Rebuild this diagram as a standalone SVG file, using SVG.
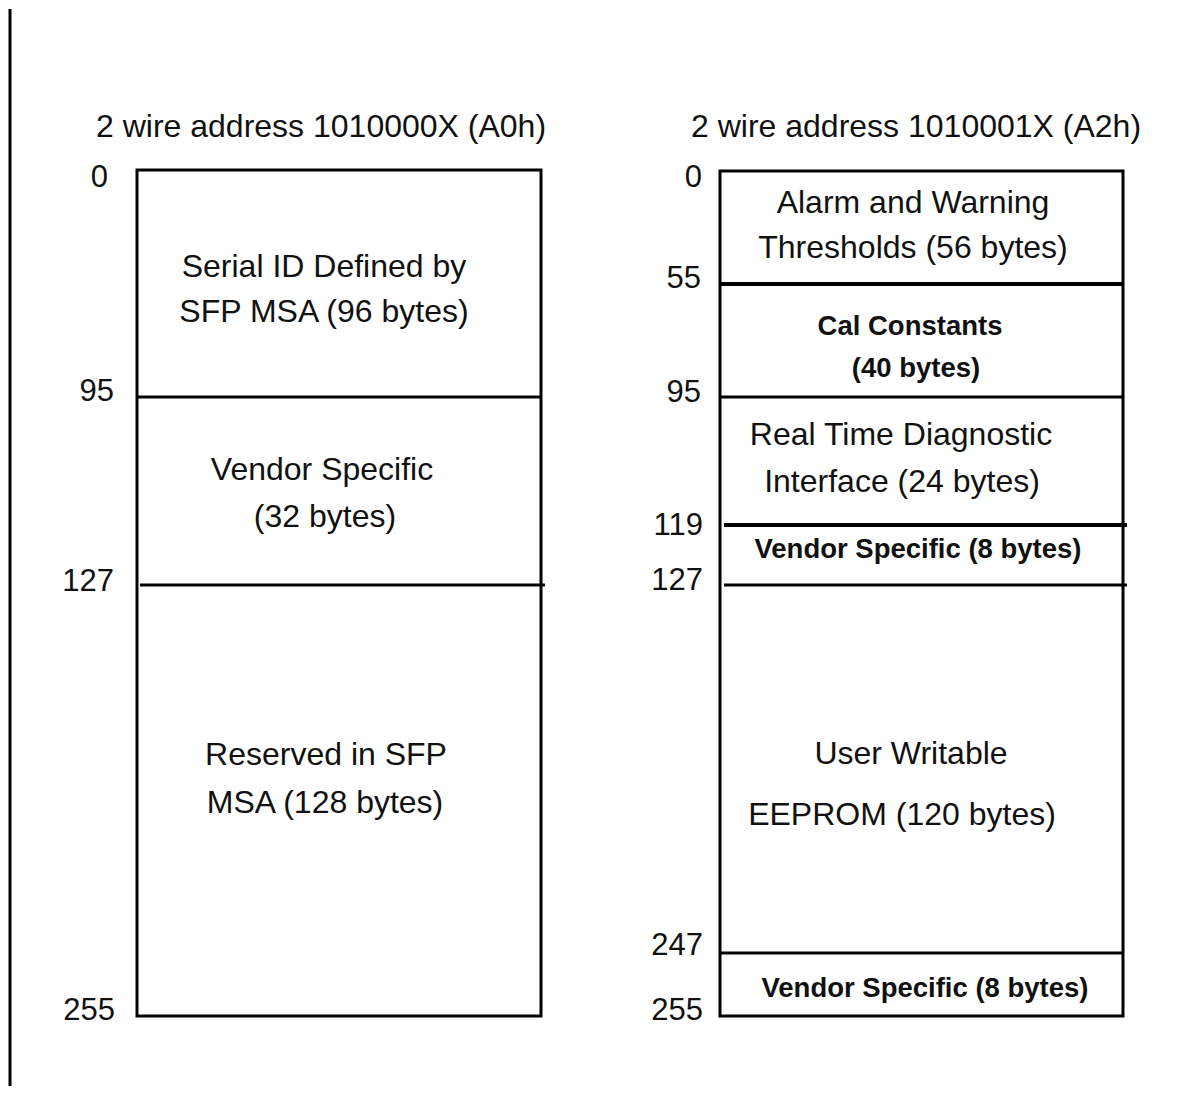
<svg xmlns="http://www.w3.org/2000/svg" width="1195" height="1096" viewBox="0 0 1195 1096">
<style>
.t{font-family:"Liberation Sans",Arial,sans-serif;font-size:32px;fill:#111;text-anchor:middle}
.b{font-family:"Liberation Sans",Arial,sans-serif;font-size:27.5px;font-weight:bold;fill:#111;text-anchor:middle}
.n{font-family:"Liberation Sans",Arial,sans-serif;font-size:31px;fill:#111;text-anchor:end}
.h{font-family:"Liberation Sans",Arial,sans-serif;font-size:32px;fill:#111;text-anchor:start}
.box{fill:none;stroke:#000;stroke-width:3}
.ln{stroke:#000;stroke-width:3;fill:none}
.lt{stroke:#000;stroke-width:4;fill:none}
</style>
<rect width="1195" height="1096" fill="#fff"/>
<line x1="10" y1="9" x2="10" y2="1086" class="ln"/>

<g id="titles">
<text class="h" x="96" y="137">2 wire address 1010000X (A0h)</text>
<text class="h" x="691" y="137">2 wire address 1010001X (A2h)</text>
</g>

<g id="labels-a0">
<text class="n" x="108" y="187">0</text>
<text class="n" x="114" y="401">95</text>
<text class="n" x="114" y="591">127</text>
<text class="n" x="115" y="1020">255</text>
</g>
<g id="labels-a2">
<text class="n" x="702" y="187">0</text>
<text class="n" x="701" y="288">55</text>
<text class="n" x="701" y="402">95</text>
<text class="n" x="703" y="535">119</text>
<text class="n" x="703" y="590">127</text>
<text class="n" x="703" y="955">247</text>
<text class="n" x="703" y="1020">255</text>
</g>

<g id="a0-box">
<rect class="box" x="137" y="170" width="404" height="846"/>
</g>
<g id="a2-box">
<rect class="box" x="720" y="171" width="403" height="845"/>
</g>

<g id="connectors">
<line class="ln" x1="137" y1="397" x2="541" y2="397"/>
<line class="ln" x1="140" y1="585" x2="545" y2="585"/>
<line class="lt" x1="720" y1="284" x2="1123" y2="284"/>
<line class="ln" x1="720" y1="397" x2="1123" y2="397"/>
<line class="lt" x1="724" y1="525" x2="1127" y2="525"/>
<line class="ln" x1="724" y1="585" x2="1127" y2="585"/>
<line class="ln" x1="720" y1="953" x2="1123" y2="953"/>
</g>

<g id="a0-serial-id">
<text class="t" x="324" y="277">Serial ID Defined by</text>
<text class="t" x="324" y="322">SFP MSA (96 bytes)</text>
</g>
<g id="a0-vendor-specific">
<text class="t" x="322" y="480">Vendor Specific</text>
<text class="t" x="325" y="527">(32 bytes)</text>
</g>
<g id="a0-reserved">
<text class="t" x="326" y="765">Reserved in SFP</text>
<text class="t" x="325" y="813">MSA (128 bytes)</text>
</g>

<g id="a2-thresholds">
<text class="t" x="913" y="213">Alarm and Warning</text>
<text class="t" x="913" y="258">Thresholds (56 bytes)</text>
</g>
<g id="a2-cal-constants">
<text class="b" x="910" y="335">Cal Constants</text>
<text class="b" x="916" y="377">(40 bytes)</text>
</g>
<g id="a2-diagnostic">
<text class="t" x="901" y="445">Real Time Diagnostic</text>
<text class="t" x="902" y="492">Interface (24 bytes)</text>
</g>
<g id="a2-vendor-specific-1">
<text class="b" x="918" y="558">Vendor Specific (8 bytes)</text>
</g>
<g id="a2-user-eeprom">
<text class="t" x="911" y="764">User Writable</text>
<text class="t" x="902" y="825">EEPROM (120 bytes)</text>
</g>
<g id="a2-vendor-specific-2">
<text class="b" x="925" y="997">Vendor Specific (8 bytes)</text>
</g>
</svg>
